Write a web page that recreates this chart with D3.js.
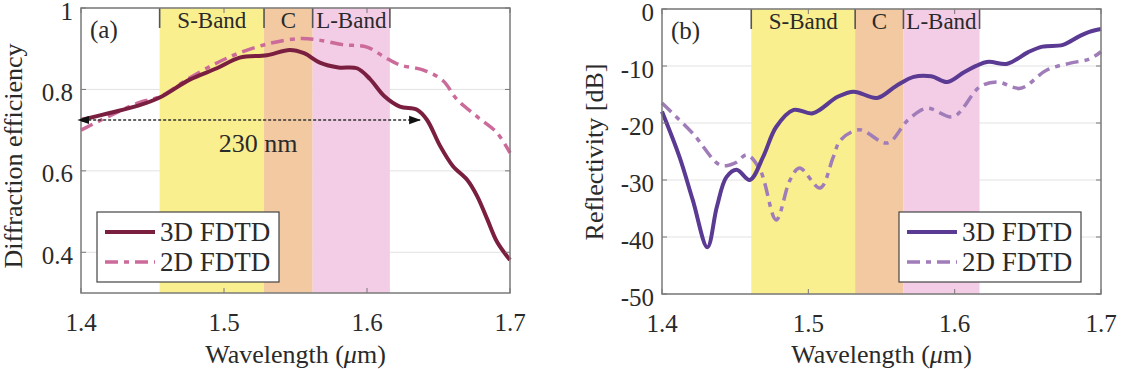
<!DOCTYPE html>
<html>
<head>
<meta charset="utf-8">
<script src="https://cdn.jsdelivr.net/npm/d3@7"></script>
<style>
  body { margin: 0; background: #fff; }
  text { font-family: "Liberation Serif", "DejaVu Serif", serif; fill: #2a2a2a; }
</style>
</head>
<body>
<svg width="1122" height="369"></svg>
<script>
// ---- data ----
const wavelengthTicks = [1.4, 1.5, 1.6, 1.7];
const effTicks = [0.4, 0.6, 0.8, 1];
const reflTicks = [0, -10, -20, -30, -40, -50];
const bandNames = ["S-Band", "C", "L-Band"];
const bandEdgesA = [1.455, 1.528, 1.562, 1.616];
const bandEdgesB = [1.461, 1.532, 1.565, 1.617];
const seriesNames = ["3D FDTD", "2D FDTD"];

// (a) diffraction efficiency  [wavelength um, efficiency]
const eff3D = [
  [1.400, 0.725], [1.420, 0.742], [1.440, 0.760], [1.455, 0.780], [1.476, 0.824],
  [1.495, 0.852], [1.511, 0.878], [1.530, 0.884], [1.546, 0.897], [1.556, 0.889],
  [1.567, 0.866], [1.580, 0.854], [1.593, 0.852], [1.602, 0.826], [1.612, 0.784],
  [1.623, 0.758], [1.635, 0.750], [1.642, 0.725], [1.651, 0.662], [1.660, 0.612],
  [1.670, 0.578], [1.677, 0.538], [1.684, 0.482], [1.691, 0.425], [1.700, 0.381]
];
const eff2D = [
  [1.400, 0.700], [1.420, 0.735], [1.441, 0.768], [1.455, 0.782], [1.475, 0.826],
  [1.495, 0.865], [1.511, 0.890], [1.533, 0.914], [1.553, 0.925], [1.565, 0.922],
  [1.583, 0.910], [1.600, 0.904], [1.612, 0.880], [1.623, 0.860], [1.639, 0.848],
  [1.653, 0.822], [1.663, 0.775], [1.677, 0.733], [1.691, 0.693], [1.700, 0.644]
];
const spanEnds = [1.405, 1.637];
const spanLevel = 0.725;
const spanLabel = "230 nm";

// (b) reflectivity  [wavelength um, dB]
const refl3D = [
  [1.400, -18.0], [1.412, -26.0], [1.421, -33.5], [1.431, -41.8], [1.4375, -34.7],
  [1.444, -29.5], [1.451, -28.2], [1.460, -30.0], [1.469, -26.0], [1.478, -20.7],
  [1.490, -17.7], [1.503, -18.3], [1.520, -15.4], [1.531, -14.5], [1.547, -15.6],
  [1.560, -13.5], [1.572, -11.9], [1.584, -11.8], [1.595, -12.8], [1.607, -11.0],
  [1.622, -9.3], [1.636, -9.6], [1.650, -7.6], [1.660, -6.6], [1.674, -6.3],
  [1.685, -4.8], [1.692, -4.0], [1.700, -3.5]
];
const refl2D = [
  [1.400, -16.5], [1.421, -21.8], [1.440, -27.4], [1.450, -27.0], [1.458, -25.6],
  [1.467, -28.2], [1.478, -37.0], [1.4875, -30.0], [1.494, -27.9], [1.508, -31.4],
  [1.517, -26.0], [1.522, -23.0], [1.535, -21.2], [1.554, -23.5], [1.568, -19.5],
  [1.581, -17.4], [1.599, -18.9], [1.617, -13.7], [1.629, -12.8], [1.645, -13.9],
  [1.663, -10.7], [1.679, -9.5], [1.692, -8.8], [1.700, -7.5]
];

const bandColors = ["#faef8f", "#f2c9a0", "#f3cde6"];

const svg = d3.select("svg");

function drawPanel(p) {
  const x = d3.scaleLinear().domain([1.4, 1.7]).range([p.left, p.right]);
  const y = d3.scaleLinear().domain(p.yDomain).range([p.bottom, p.top]);
  const g = svg.append("g");

  // grid
  g.selectAll(".grid").data(p.yTicks).enter().append("line")
    .attr("x1", p.left).attr("x2", p.right)
    .attr("y1", d => y(d)).attr("y2", d => y(d))
    .attr("stroke", "#e2e2e2").attr("stroke-width", 1);

  // bands
  const bands = bandNames.map((n, i) => ({ name: n, a: p.edges[i], b: p.edges[i + 1], c: bandColors[i] }));
  g.selectAll(".band").data(bands).enter().append("rect")
    .attr("x", d => x(d.a)).attr("width", d => x(d.b) - x(d.a))
    .attr("y", p.top).attr("height", p.bottom - p.top)
    .attr("fill", d => d.c);
  g.selectAll(".edge").data(p.edges).enter().append("line")
    .attr("x1", d => x(d)).attr("x2", d => x(d))
    .attr("y1", p.top).attr("y2", p.top + 20)
    .attr("stroke", "#555").attr("stroke-width", 1.6);
  g.selectAll(".bandlbl").data(bands).enter().append("text")
    .attr("x", d => (x(d.a) + x(d.b)) / 2).attr("y", p.top + 20)
    .attr("text-anchor", "middle").attr("font-size", 23)
    .text(d => d.name);

  // curves
  const line = d3.line().x(d => x(d[0])).y(d => y(d[1])).curve(d3.curveCatmullRom.alpha(0.5));
  g.append("path").datum(p.s2).attr("d", line)
    .attr("fill", "none").attr("stroke", p.c2).attr("stroke-width", 3.5)
    .attr("stroke-dasharray", "13,6,5,6");
  g.append("path").datum(p.s3).attr("d", line)
    .attr("fill", "none").attr("stroke", p.c3).attr("stroke-width", 4);

  // ticks on all four sides
  const tl = 5, tc = "#777";
  g.selectAll(".ty").data(p.yTicks).enter().append("path")
    .attr("d", d => `M${p.left},${y(d)}h${tl}M${p.right},${y(d)}h${-tl}`)
    .attr("stroke", tc).attr("stroke-width", 1);
  g.selectAll(".tx").data(wavelengthTicks).enter().append("path")
    .attr("d", d => `M${x(d)},${p.bottom}v${-tl}M${x(d)},${p.top}v${tl}`)
    .attr("stroke", tc).attr("stroke-width", 1);

  // box
  g.append("rect").attr("x", p.left).attr("y", p.top)
    .attr("width", p.right - p.left).attr("height", p.bottom - p.top)
    .attr("fill", "none").attr("stroke", "#7a7a7a").attr("stroke-width", 1.5);

  // tick labels
  g.selectAll(".xl").data(wavelengthTicks).enter().append("text")
    .attr("x", d => x(d)).attr("y", p.bottom + 38)
    .attr("text-anchor", "middle").attr("font-size", 25)
    .text(d => d3.format(".1f")(d));
  g.selectAll(".yl").data(p.yTicks).enter().append("text")
    .attr("x", p.left - 8).attr("y", d => y(d)).attr("dy", "0.46em")
    .attr("text-anchor", "end").attr("font-size", 25)
    .text(p.yFormat);

  // axis titles
  const xt = g.append("text")
    .attr("x", (p.left + p.right) / 2).attr("y", 363)
    .attr("text-anchor", "middle").attr("font-size", 26);
  xt.append("tspan").text("Wavelength (");
  xt.append("tspan").attr("font-style", "italic").text("\u03bc");
  xt.append("tspan").text("m)");
  g.append("text")
    .attr("transform", `translate(${p.yTitleX},${p.yTitleY}) rotate(-90)`)
    .attr("text-anchor", "middle").attr("font-size", 26)
    .text(p.yTitle);

  // panel label
  g.append("text").attr("x", p.left + 9).attr("y", p.top + 30)
    .attr("font-size", 25).text(p.tag);

  // legend
  const lg = g.append("g").attr("transform", `translate(${p.legX},212)`);
  lg.append("rect").attr("width", 182).attr("height", 70)
    .attr("fill", "#fff").attr("stroke", "#444").attr("stroke-width", 1.2);
  [[p.c3, null, 4], [p.c2, "13,6,5,6", 3.5]].forEach((s, i) => {
    const yy = 20 + i * 30;
    lg.append("line").attr("x1", 8).attr("x2", 58).attr("y1", yy).attr("y2", yy)
      .attr("stroke", s[0]).attr("stroke-width", s[2])
      .attr("stroke-dasharray", s[1]);
    lg.append("text").attr("x", 63).attr("y", yy).attr("dy", "0.35em")
      .attr("font-size", 27).text(seriesNames[i]);
  });

  return { x, y, g };
}

const a = drawPanel({
  left: 81, right: 510, top: 8, bottom: 293,
  yDomain: [0.3, 1], yTicks: effTicks, yFormat: d => d === 1 ? "1" : d3.format(".1f")(d),
  edges: bandEdgesA, s3: eff3D, s2: eff2D, c3: "#7b1f40", c2: "#cc6a9a",
  yTitle: "Diffraction efficiency", yTitleX: 22, yTitleY: 156,
  tag: "(a)", legX: 97
});

// 230 nm span arrow
const defs = svg.append("defs");
["s", "e"].forEach(k => {
  defs.append("marker").attr("id", "arr" + k)
    .attr("viewBox", "0 0 10 10").attr("refX", k === "e" ? 9 : 1).attr("refY", 5)
    .attr("markerWidth", 8).attr("markerHeight", 8).attr("orient", "auto-start-reverse")
    .append("path").attr("d", "M0,1.5L10,5L0,8.5z").attr("fill", "#111");
});
a.g.append("line")
  .attr("x1", a.x(spanEnds[0])).attr("x2", a.x(spanEnds[1]))
  .attr("y1", a.y(spanLevel)).attr("y2", a.y(spanLevel))
  .attr("stroke", "#333").attr("stroke-width", 1.5).attr("stroke-dasharray", "3,2")
  .attr("marker-start", "url(#arrs)").attr("marker-end", "url(#arre)");
a.g.append("text")
  .attr("x", a.x(d3.mean(spanEnds)) + 4).attr("y", a.y(spanLevel) + 32)
  .attr("text-anchor", "middle").attr("font-size", 26).text(spanLabel);

drawPanel({
  left: 662, right: 1101, top: 9, bottom: 294,
  yDomain: [-50, 0], yTicks: reflTicks, yFormat: d => String(d),
  edges: bandEdgesB, s3: refl3D, s2: refl2D, c3: "#5a3a93", c2: "#a07cb9",
  yTitle: "Reflectivity [dB]", yTitleX: 603, yTitleY: 152,
  tag: "(b)", legX: 899
});
</script>
</body>
</html>
